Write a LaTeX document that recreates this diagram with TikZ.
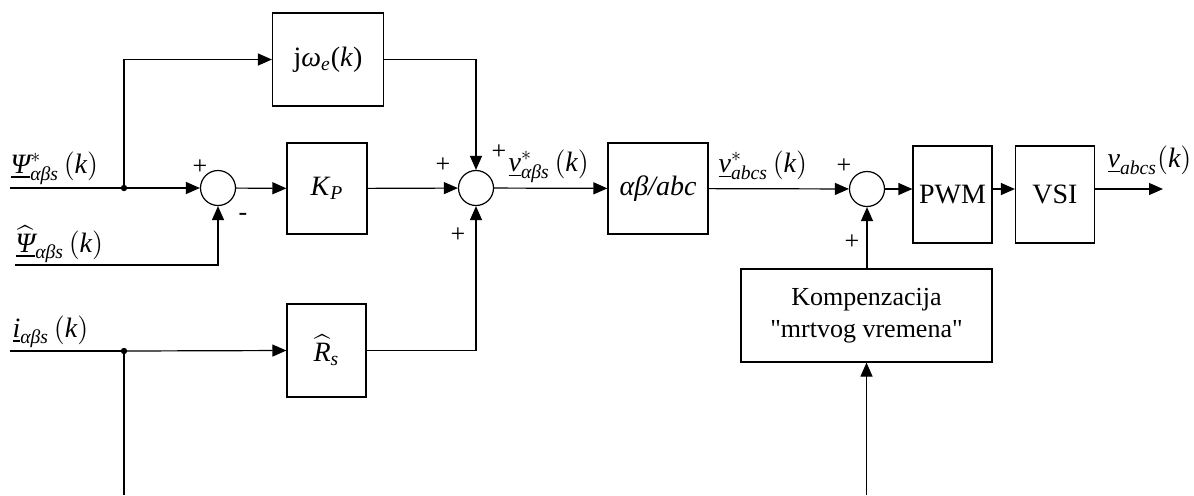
\documentclass[tikz,border=0pt]{standalone}
\usepackage{amsmath}
\usepackage{fontspec}
\setmainfont{Liberation Serif}
\usetikzlibrary{arrows.meta}
\begin{document}
\begin{tikzpicture}[x=0.5pt,y=-0.5pt,line width=0.6pt,
  >={Triangle[length=7pt,width=6pt]},
  blk/.style={draw,inner sep=0pt,font=\fontsize{14}{16}\selectfont},
  sum/.style={draw,circle,inner sep=0pt,minimum size=17.5pt},
  lbl/.style={inner sep=0pt,font=\fontsize{14}{16}\selectfont},
  sgn/.style={inner sep=0pt,font=\fontsize{13}{15}\selectfont}]
\useasboundingbox (0,0) rectangle (1194,495);
% coordinates
\coordinate (in1) at (10,188);
\coordinate (dot1) at (124,188);
\coordinate (in2) at (15,265);
\coordinate (in3) at (10,351);
\coordinate (dot2) at (124,351);
\coordinate (bot1) at (124,495);
\coordinate (bot2) at (866.5,495);
\coordinate (out) at (1163,189);
% blocks
\node[sum] (s1) at (218,188) {};
\node[blk,minimum width=40pt,minimum height=45.5pt] (kp) at (327,188.5) {\textit{K}\textsubscript{\textit{P}}};
\node[blk,minimum width=55.5pt,minimum height=46.5pt] (jw) at (328,59.5) {j\textit{ω\textsubscript{e}}(\textit{k})};
\node[blk,minimum width=39.5pt,minimum height=46.5pt] (rs) at (326.5,350.5) {$\widehat{\textit{R}}_{\textit{s}}$};
\node[sum] (s2) at (476,188) {};
\node[blk,minimum width=50pt,minimum height=45.5pt] (ab) at (658,188.5) {\textit{αβ/abc}};
\node[sum] (s3) at (867,189) {};
\node[blk,minimum width=39.5pt,minimum height=48.5pt] (pwm) at (952.5,194.5) {PWM};
\node[blk,minimum width=39.5pt,minimum height=48.5pt] (vsi) at (1055,194.5) {VSI};
\node[blk,minimum width=125.5pt,minimum height=46.5pt,align=center,font=\fontsize{13}{16}\selectfont] (comp) at (866.5,315.5) {Kompenzacija\\\textquotedbl mrtvog vremena\textquotedbl};
% labels
\node[lbl,anchor=base west] (l1) at (10,173) {$\underline{\textit{Ψ}}^{*}_{\textit{αβs}}\,(\textit{k})$};
\node[lbl,anchor=base west] (l2) at (15,252) {$\underline{\widehat{\textit{Ψ}}}_{\textit{αβs}}\,(\textit{k})$};
\node[lbl,anchor=base west] (l3) at (12,337) {$\underline{\textit{i}}_{\textit{αβs}}\,(\textit{k})$};
\node[lbl,anchor=base west] (l4) at (508,171) {$\underline{\textit{v}}^{*}_{\textit{αβs}}\,(\textit{k})$};
\node[lbl,anchor=base west] (l5) at (718,172) {$\underline{\textit{v}}^{*}_{\textit{abcs}}\,(\textit{k})$};
\node[lbl,anchor=base east] (l6) at (1192,167) {$\underline{\textit{v}}_{\textit{abcs}}(\textit{k})$};
% signs
\node[sgn] (p1) at (200,167) {+};
\node[sgn] (m1) at (243,217) {-};
\node[sgn] (p2) at (443,165) {+};
\node[sgn] (p3) at (499,152) {+};
\node[sgn] (p4) at (458,235) {+};
\node[sgn] (p5) at (844,166) {+};
\node[sgn] (p6) at (852,242) {+};
% connectors
\draw (in1) -- (dot1);
\draw[->] (dot1) -- (s1);
\draw[->] (dot1) |- (jw.west);
\draw[->] (in2) -| (s1.south);
\draw[->] (s1) -- (kp);
\draw[->] (kp) -- (s2);
\draw[->] (jw.east) -| (s2.north);
\draw (in3) -- (dot2);
\draw[->] (dot2) -- (rs.west);
\draw (dot2) -- (bot1);
\draw[->] (rs.east) -| (s2.south);
\draw[->] (s2) -- (ab);
\draw[->] (ab) -- (s3);
\draw[->] (s3) -- (pwm.west |- s3);
\draw[->] (pwm.east |- s3) -- (vsi.west |- s3);
\draw[->] (vsi.east |- s3) -- (out);
\draw[->] (comp.north -| s3) -- (s3.south);
\draw[->] (bot2) -- (comp.south);
\fill (dot1) circle (1.6pt);
\fill (dot2) circle (1.6pt);
\end{tikzpicture}
\end{document}
